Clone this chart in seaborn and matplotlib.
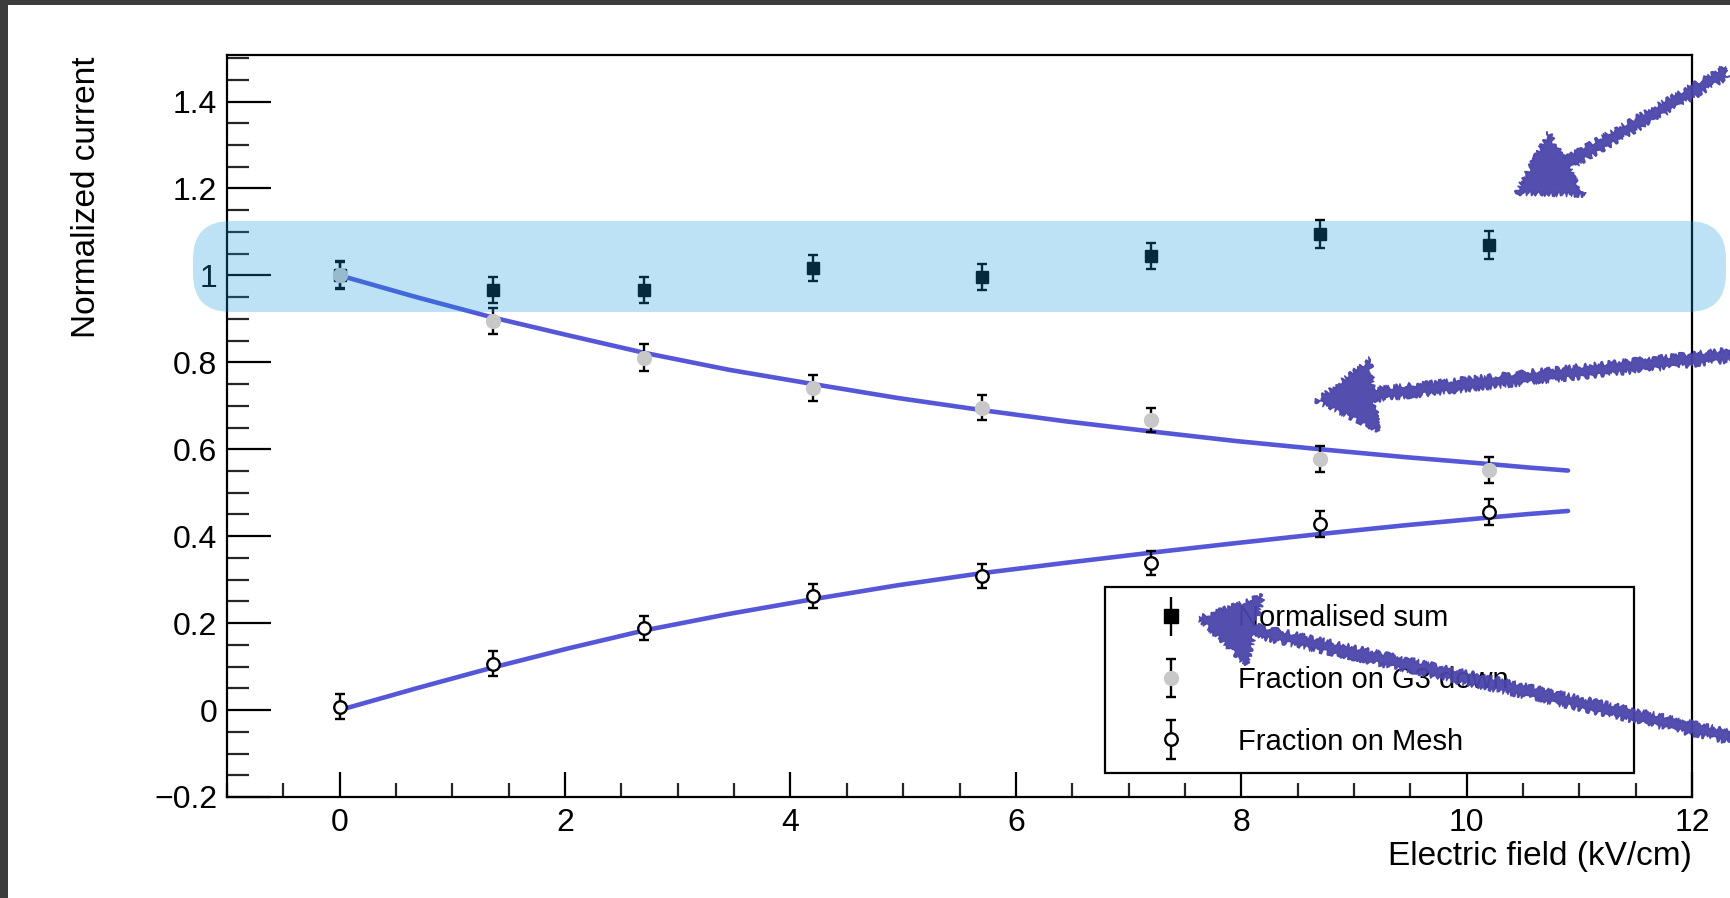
import numpy as np
import pandas as pd
import seaborn as sns
import matplotlib
matplotlib.use("Agg")
import matplotlib.pyplot as plt
from matplotlib.patches import FancyBboxPatch, FancyArrowPatch, Rectangle
from matplotlib.ticker import MultipleLocator, FuncFormatter
from matplotlib.legend_handler import HandlerErrorbar

# ---------------- data ----------------
field = [0.0, 1.36, 2.7, 4.2, 5.7, 7.2, 8.7, 10.2]
sum_vals = [1.000, 0.966, 0.966, 1.016, 0.996, 1.044, 1.095, 1.070]
sum_err = [0.032, 0.030, 0.030, 0.030, 0.030, 0.030, 0.032, 0.032]
g3_vals = [1.000, 0.895, 0.811, 0.740, 0.696, 0.668, 0.577, 0.552]
g3_err = [0.030, 0.030, 0.030, 0.030, 0.028, 0.028, 0.030, 0.030]
mesh_vals = [0.008, 0.107, 0.189, 0.262, 0.308, 0.338, 0.427, 0.455]
mesh_err = [0.028, 0.028, 0.028, 0.028, 0.028, 0.028, 0.030, 0.030]

fit_x = [0.0, 0.68, 1.36, 2.03, 2.7, 3.45, 4.2, 4.95, 5.7, 6.45, 7.2, 7.95, 8.7, 9.45, 10.2, 10.55, 10.9]
g3_fit = [1.000, 0.950, 0.903, 0.862, 0.822, 0.783, 0.750, 0.718, 0.690, 0.664, 0.641, 0.619,
          0.600, 0.582, 0.566, 0.558, 0.551]
mesh_fit = [0.000, 0.050, 0.098, 0.142, 0.183, 0.221, 0.255, 0.287, 0.315, 0.339, 0.362, 0.384,
            0.405, 0.425, 0.443, 0.451, 0.458]

labels = ["Normalised sum", "Fraction on G3 down", "Fraction on Mesh"]
x_label = "Electric field (kV/cm)"
y_label = "Normalized current"

# ---------------- style ----------------
sns.set_theme(style="ticks")
plt.rcParams["font.family"] = ["Liberation Sans", "DejaVu Sans"]
plt.rcParams["axes.unicode_minus"] = True

W, H = 1731, 898
fig = plt.figure(figsize=(W / 100, H / 100), dpi=100, facecolor="#3c3c3c")
fig.patches.append(Rectangle((8 / W, 0), 1, 1 - 5 / H, transform=fig.transFigure,
                             facecolor="white", edgecolor="none", zorder=-10))

ax = fig.add_axes([227 / W, (H - 797) / H, (1692 - 227) / W, (797 - 55) / H])
ax.set_facecolor("white")

fit_color = "#5656d8"
fit_df = pd.DataFrame({"x": fit_x, "g3": g3_fit, "mesh": mesh_fit})
sns.lineplot(data=fit_df, x="x", y="g3", ax=ax, color=fit_color, lw=3.3, legend=False, zorder=3)
sns.lineplot(data=fit_df, x="x", y="mesh", ax=ax, color=fit_color, lw=3.3, legend=False, zorder=3)

eb_kw = dict(ecolor="black", elinewidth=1.7, capsize=3.8, capthick=1.7, linestyle="none", zorder=4)
h_sum = ax.errorbar(field, sum_vals, yerr=sum_err, fmt="s", ms=9, mfc="black", mec="black", **eb_kw)
h_g3 = ax.errorbar(field, g3_vals, yerr=g3_err, fmt="o", ms=10, mfc="#c8c8c8", mec="#c8c8c8", **eb_kw)
h_mesh = ax.errorbar(field, mesh_vals, yerr=mesh_err, fmt="o", ms=9, mfc="white", mec="black",
                     mew=1.7, **eb_kw)
# legend proxy for the sum (ROOT draws it without caps)
h_sum_leg = ax.errorbar([np.nan], [np.nan], yerr=[np.nan], fmt="s", ms=10, mfc="black", mec="black",
                        ecolor="black", elinewidth=1.7, capsize=0, linestyle="none")

ax.set_xlim(-1, 12)
ax.set_ylim(-0.2, 1.507)
ax.xaxis.set_major_locator(MultipleLocator(2))
ax.xaxis.set_minor_locator(MultipleLocator(0.5))
ax.yaxis.set_major_locator(MultipleLocator(0.2))
ax.yaxis.set_minor_locator(MultipleLocator(0.05))
fmt = FuncFormatter(lambda v, p: ("%g" % round(v, 3)).replace("-", "\u2212"))
ax.xaxis.set_major_formatter(fmt)
ax.yaxis.set_major_formatter(fmt)

ax.tick_params(axis="y", which="major", direction="in", length=32, width=1.6, labelsize=23, pad=7,
               colors="black", right=False)
ax.tick_params(axis="y", which="minor", direction="in", length=16, width=1.6, right=False, left=True)
ax.tick_params(axis="x", which="major", direction="in", length=18, width=1.6, labelsize=23, pad=8,
               colors="black", top=False)
ax.tick_params(axis="x", which="minor", direction="in", length=10, width=1.6, top=False, bottom=True)
for s in ax.spines.values():
    s.set_linewidth(1.6)
    s.set_color("black")
ax.set_xlabel("")
ax.set_ylabel("")

fig.text(87 / W, 1 - 56 / H, y_label, rotation=90, ha="center", va="top", fontsize=24, color="black")
fig.text(1692 / W, 1 - 857 / H, x_label, ha="right", va="center", fontsize=24, color="black")

leg = ax.legend([h_sum_leg, h_g3, h_mesh], labels,
                handler_map={type(h_g3): HandlerErrorbar(yerr_size=0.66)},
                loc="upper left", bbox_to_anchor=(11.05, 1.27, 5.29, 1.84),
                bbox_transform=fig.dpi_scale_trans, mode="expand", borderaxespad=0,
                fontsize=21, frameon=True, fancybox=False, framealpha=1, edgecolor="black",
                borderpad=0.6, handlelength=3.32, handletextpad=0.63, labelspacing=1.15)
leg.get_frame().set_linewidth(1.6)
leg.set_zorder(6)
for t in leg.get_texts():
    t.set_color("black")

# highlight band (figure level, drawn over the axes)
band = FancyBboxPatch((1.93, (H - 312) / 100), 17.26 - 1.93, 0.91,
                      boxstyle="round,pad=0,rounding_size=0.38",
                      transform=fig.dpi_scale_trans, facecolor="#1599e0", alpha=0.28,
                      edgecolor="none", zorder=5)
fig.patches.append(band)

# hand-drawn style arrows
arrow_color = "#4b45aa"
arrows = [((17.26, 8.26), (15.16, 7.05)),
          ((17.31, 5.43), (13.16, 4.97)),
          ((17.31, 1.61), (11.98, 2.80))]
for tail, tip in arrows:
    a = FancyArrowPatch(tail, tip, transform=fig.dpi_scale_trans,
                        arrowstyle="simple,head_length=42,head_width=52,tail_width=8",
                        mutation_scale=1, shrinkA=0, shrinkB=0, color=arrow_color,
                        alpha=0.95, zorder=7)
    a.set_sketch_params(scale=2.5, length=6, randomness=20)
    fig.patches.append(a)

fig.savefig("out.png", dpi=100, facecolor=fig.get_facecolor())
